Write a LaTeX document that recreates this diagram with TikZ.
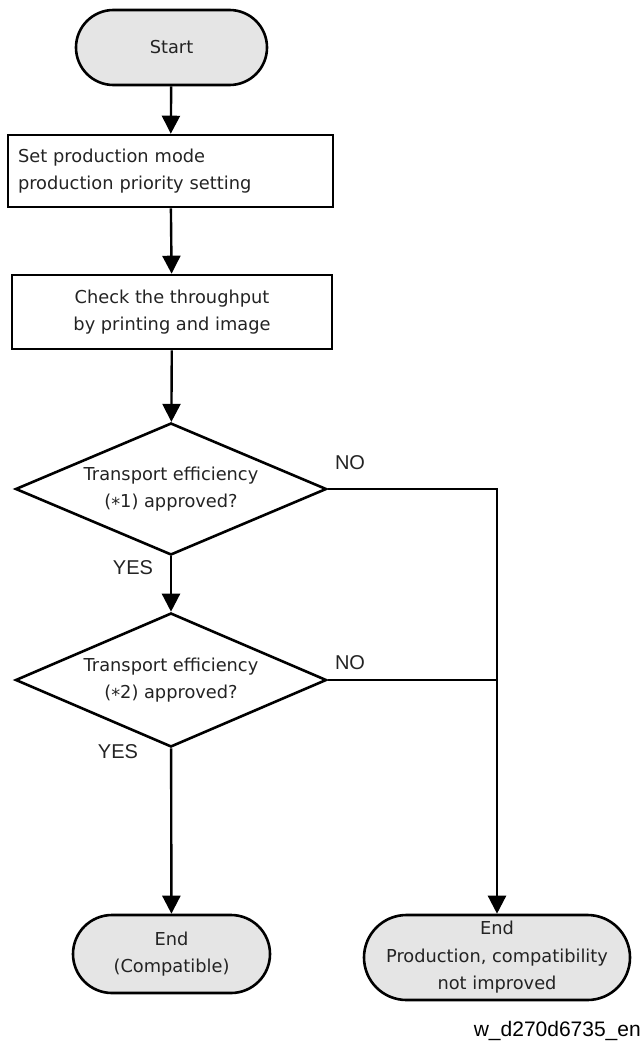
\documentclass[tikz,border=0pt]{standalone}
\usepackage{fontspec}
\setmainfont{DejaVu Sans}
\newfontfamily\labelfont{Liberation Sans}
\usetikzlibrary{shapes.geometric,shapes.misc,arrows.meta}
\definecolor{pillgray}{RGB}{229,229,229}
\definecolor{inkgray}{RGB}{35,35,35}

\begin{document}
\begin{tikzpicture}[x=1pt,y=-1pt,
  every node/.style={font=\fontsize{17.8}{27.5}\selectfont},
  base/.style={draw=black,line width=2.6pt,inner sep=0pt,align=center,text=inkgray},
  terminal/.style={base,rounded rectangle,fill=pillgray},
  process/.style={base,rectangle},
  decision/.style={base,diamond,aspect=2.36},
  flow/.style={line width=2.4pt,-{Triangle[width=18pt,length=18pt]}},
  link/.style={line width=2.4pt},
  answer/.style={font=\labelfont\fontsize{20}{24}\selectfont,inner sep=0pt,text=inkgray}
]
\useasboundingbox (0,0) rectangle (642,1041);

% main column
\node[terminal,minimum width=191pt,minimum height=75pt] (start) at (171.5,47.5) {Start};
\node[process,text width=305pt,inner xsep=10pt,minimum height=72pt,align=left] (mode) at (170.5,171)
  {Set production mode\\production priority setting};
\node[process,minimum width=320pt,minimum height=74pt] (check) at (172,312)
  {Check the throughput\\by printing and image};
\node[decision,minimum width=311pt,minimum height=132pt] (eff1) at (171,489)
  {Transport efficiency\\(\raisebox{-0.3ex}{*}1) approved?};
\node[decision,minimum width=311pt,minimum height=134pt] (eff2) at (171,680)
  {Transport efficiency\\(\raisebox{-0.3ex}{*}2) approved?};
\node[terminal,minimum width=197pt,minimum height=78pt] (endok) at (171.5,954)
  {End\\(Compatible)};
\node[terminal,minimum width=266pt,minimum height=85pt] (endng) at (497,957.5)
  {End\\Production, compatibility\\not improved};

% answer labels
\node[answer] (no1) at (350,463) {NO};
\node[answer] (no2) at (350,663) {NO};
\node[answer] (yes1) at (133,568) {YES};
\node[answer] (yes2) at (118,752) {YES};

% drawing reference
\node[anchor=base east,inner sep=0pt,font=\labelfont\fontsize{21}{24}\selectfont] (ref) at (641,1036) {w\_d270d6735\_en};

% connectors
\draw[flow] (start) -- (mode);
\draw[flow] (mode) -- (check);
\draw[flow] (check) -- (eff1);
\draw[flow] (eff1) -- (eff2);
\draw[flow] (eff2) -- (endok);
\coordinate (bend) at (eff1.east -| endng.north);
\draw[flow] (eff1.east) -- (bend) -- (endng.north);
\draw[link] (eff2.east) -- (eff2.east -| endng.north);
\end{tikzpicture}
\end{document}
